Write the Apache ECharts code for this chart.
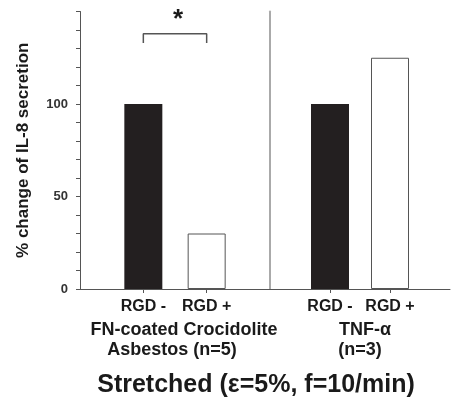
<!DOCTYPE html>
<html><head><meta charset="utf-8">
<script src="https://cdn.jsdelivr.net/npm/echarts@6/dist/echarts.min.js"></script>
<style>html,body{margin:0;padding:0;background:#fff}#c{width:453px;height:398px}</style>
</head><body><div id="c"></div>
<script>
const categories = ['RGD -', 'RGD +'];
const asbestosValues = [100, 30];
const tnfValues = [100, 125];
const yMax = 150;
const yLabelValues = [0, 50, 100];
const sigBracket = { from: 'RGD -', to: 'RGD +', top: 138, legEnd: 133, text: '*' };
const groupLabelsLeft = ['FN-coated Crocidolite', 'Asbestos (n=5)'];
const groupLabelsRight = ['TNF-\u03b1', '(n=3)'];
const titleText = 'Stretched (\u03b5=5%, f=10/min)';
const yName = '% change of IL-8 secretion';

const axisCats = ['', ...categories, ''];
const FONT = '"Liberation Sans", Arial, sans-serif';
const barStyles = [
  { color: '#231f20' },
  { color: '#ffffff', borderColor: '#555', borderWidth: 1 }
];
function barData(vals) {
  return axisCats.map(c => {
    const k = categories.indexOf(c);
    return k < 0 ? '-' : { value: vals[k], itemStyle: barStyles[k] };
  });
}
function xAxisFor(gi, lineColor) {
  return {
    type: 'category', gridIndex: gi, data: axisCats, boundaryGap: false,
    axisLine: { lineStyle: { color: lineColor, width: 1 } },
    axisTick: { interval: i => i === 1 || i === 2, length: 4, lineStyle: { color: '#555' } },
    axisLabel: { interval: 0, fontSize: 16, fontWeight: 'bold', color: '#1a1a1a', fontFamily: FONT, margin: 10 }
  };
}
const chart = echarts.init(document.getElementById('c'), null, { renderer: 'canvas' });
const txt = (text, x, y, size) => ({
  type: 'text', x: x, y: y,
  style: { text: text, fontSize: size, fontWeight: 'bold', fontFamily: FONT, fill: '#1a1a1a', textAlign: 'center', textVerticalAlign: 'middle' }
});
chart.setOption({
  animation: false,
  backgroundColor: '#fff',
  grid: [
    { left: 80, width: 190, top: 11.5, bottom: 109 },
    { left: 270, width: 190, top: 11.5, bottom: 109 }
  ],
  xAxis: [xAxisFor(0, '#555'), xAxisFor(1, '#555')],
  yAxis: [
    {
      type: 'value', gridIndex: 0, min: 0, max: yMax, interval: 10,
      axisLine: { show: true, lineStyle: { color: '#555' } },
      axisTick: { show: true, length: 4, lineStyle: { color: '#555' } },
      splitLine: { show: false },
      axisLabel: { formatter: v => yLabelValues.includes(v) ? String(v) : '', fontSize: 13, fontWeight: 'bold', color: '#333', fontFamily: FONT, margin: 12 },
      name: yName, nameLocation: 'middle', nameGap: 48,
      nameTextStyle: { fontSize: 17, fontWeight: 'bold', color: '#1a1a1a', fontFamily: FONT, padding: [0, 0, 0, 0] }
    },
    {
      type: 'value', gridIndex: 1, min: 0, max: yMax, interval: 10,
      axisLine: { show: true, lineStyle: { color: '#aaa', width: 2 } },
      axisTick: { show: false }, axisLabel: { show: false }, splitLine: { show: false }
    }
  ],
  series: [
    { type: 'bar', xAxisIndex: 0, yAxisIndex: 0, barWidth: 38, data: barData(asbestosValues) },
    { type: 'bar', xAxisIndex: 1, yAxisIndex: 1, barWidth: 38, data: barData(tnfValues) },
    {
      type: 'line', xAxisIndex: 0, yAxisIndex: 0, symbol: 'none', silent: true,
      lineStyle: { color: '#555', width: 1.5 },
      data: [[sigBracket.from, sigBracket.legEnd], [sigBracket.from, sigBracket.top], [sigBracket.to, sigBracket.top], [sigBracket.to, sigBracket.legEnd]]
    }
  ],
  graphic: [
    txt(sigBracket.text, 178, 20, 26),
    txt(groupLabelsLeft[0], 184, 330, 18),
    txt(groupLabelsLeft[1], 172, 350, 18),
    txt(groupLabelsRight[0], 365, 330, 18),
    txt(groupLabelsRight[1], 360, 350, 18),
    txt(titleText, 256, 385, 25)
  ]
});
</script></body></html>
